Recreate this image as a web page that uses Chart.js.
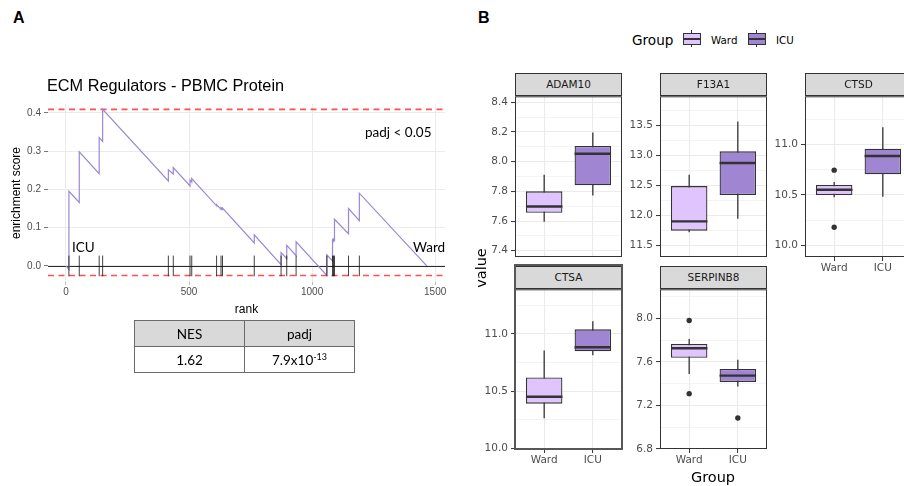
<!DOCTYPE html>
<html>
<head>
<meta charset="utf-8">
<title>ECM Regulators - PBMC Protein</title>
<script src="https://cdn.jsdelivr.net/npm/chart.js@4.4.1/dist/chart.umd.min.js"></script>
<style>
  html, body { margin: 0; padding: 0; }
  body { position: relative; width: 904px; height: 486px; overflow: hidden; background: #fff; font-family: "DejaVu Sans", sans-serif; }
  canvas, .t, .strip, .key { position: absolute; }
  .t { white-space: nowrap; color: #000; }
  .tag { font-family: "Liberation Sans"; font-weight: bold; font-size: 16px; line-height: 20px; }
  .note { font-family: Lato; font-size: 13.5px; line-height: 20px; }
  .strip { box-sizing: border-box; border: 1px solid #333; background: #d9d9d9; color: #1a1a1a; font-size: 10.5px; line-height: 21px; text-align: center; }
  .key { box-sizing: border-box; }
  #stats { position: absolute; left: 134px; top: 320px; border-collapse: collapse; font-family: Lato; font-size: 13.5px; }
  #stats th, #stats td { border: 1px solid #6b6b6b; width: 109px; height: 25px; padding: 0; text-align: center; font-weight: normal; color: #000; }
  #stats th { background: #d9d9d9; }
  #stats sup { font-size: 9px; vertical-align: 5px; line-height: 0; }
  .rot { transform: rotate(-90deg); text-align: center; }
</style>
</head>
<body>
<div id="plots"></div>

<!-- panel A texts -->
<div class="t tag" style="left:13px;top:8px">A</div>
<div class="t" style="left:47px;top:74px;line-height:22px;font-family:'Liberation Sans';font-size:16.3px">ECM Regulators - PBMC Protein</div>
<div class="t note" style="left:365px;top:122px">padj &lt; 0.05</div>
<div class="t note" style="left:72px;top:237px">ICU</div>
<div class="t note" style="left:413px;top:237px">Ward</div>
<table id="stats">
  <tr><th>NES</th><th>padj</th></tr>
  <tr><td>1.62</td><td>7.9x10<sup>-13</sup></td></tr>
</table>

<!-- panel B texts -->
<div class="t tag" style="left:478px;top:8px">B</div>
<div class="t" style="left:632px;top:30px;line-height:20px;font-size:13.6px">Group</div>
<div class="key" style="left:691px;top:30px;width:1.2px;height:17px;background:#333"></div>
<div class="key" style="left:683px;top:33px;width:18px;height:12px;background:#e0c4fe;border:1.3px solid #333"></div>
<div class="key" style="left:683px;top:38px;width:18px;height:1.6px;background:#333"></div>
<div class="t" style="left:711px;top:30px;line-height:20px;font-size:10.3px">Ward</div>
<div class="key" style="left:756px;top:30px;width:1.2px;height:17px;background:#333"></div>
<div class="key" style="left:748px;top:33px;width:18px;height:12px;background:#a085d2;border:1.3px solid #333"></div>
<div class="key" style="left:748px;top:38px;width:18px;height:1.6px;background:#333"></div>
<div class="t" style="left:776px;top:30px;line-height:20px;font-size:10.3px">ICU</div>
<div class="t rot" style="left:431px;top:258px;width:100px;line-height:20px;font-size:14.5px">value</div>
<div class="t" style="left:663px;top:467px;width:100px;line-height:20px;font-size:14.5px;text-align:center">Group</div>
<div id="strips"></div>

<script>
// ---------- panel A : running enrichment score ----------
const rankTicks = [0, 500, 1000, 1500];
const esTicks = [0, 0.1, 0.2, 0.3, 0.4];
const esTickLabels = ['0.0', '0.1', '0.2', '0.3', '0.4'];
const curveRank = [0, 12, 12, 54, 54, 135, 135, 149, 149, 416, 416, 436, 436, 504, 504, 511, 511,
  612, 612, 630, 630, 636, 636, 765, 765, 874, 874, 897, 897, 935, 935, 1060, 1060,
  1083, 1083, 1087, 1087, 1091, 1091, 1148, 1148, 1192, 1192, 1466];
const curveES = [0, -0.009, 0.195, 0.166, 0.298, 0.241, 0.335, 0.325, 0.409, 0.222, 0.251, 0.240, 0.257, 0.209, 0.224, 0.219, 0.228,
  0.157, 0.160, 0.148, 0.152, 0.148, 0.151, 0.060, 0.081, 0.003, 0.035, 0.019, 0.054, 0.027, 0.063, -0.025, 0.029,
  0.013, 0.068, 0.065, 0.070, 0.067, 0.122, 0.084, 0.150, 0.118, 0.190, 0.000];
const hitRanks = [12, 54, 135, 149, 416, 436, 504, 511, 612, 630, 636, 765, 874, 897, 935, 1060, 1083, 1087, 1091, 1148, 1192];
const esMaxLine = 0.409;
const esMinLine = -0.025;
const hitHalf = 0.027;

// ---------- panel B : boxplots ----------
const groups = ['Ward', 'ICU'];
// [lower whisker, Q1, median, Q3, upper whisker]
const adam10Ward = [7.596, 7.656, 7.698, 7.800, 7.912];
const adam10Icu = [7.772, 7.841, 8.053, 8.106, 8.197];
const f13a1Ward = [11.72, 11.745, 11.90, 12.49, 12.68];
const f13a1Icu = [11.945, 12.34, 12.876, 13.07, 13.57];
const ctsdWard = [10.477, 10.50, 10.553, 10.60, 10.63];
const ctsdIcu = [10.484, 10.707, 10.888, 10.96, 11.174];
const ctsaWard = [10.264, 10.391, 10.452, 10.62, 10.855];
const ctsaIcu = [10.814, 10.849, 10.884, 11.04, 11.11];
const serpinb8Ward = [7.489, 7.637, 7.725, 7.764, 7.81];
const serpinb8Icu = [7.374, 7.414, 7.474, 7.534, 7.619];
const ctsdWardOut = [10.747, 10.18];
const serpinb8WardOut = [7.979, 7.308];
const serpinb8IcuOut = [7.084];
const adam10Ticks = [7.4, 7.6, 7.8, 8.0, 8.2, 8.4];
const adam10Labels = ['7.4', '7.6', '7.8', '8.0', '8.2', '8.4'];
const f13a1Ticks = [11.5, 12.0, 12.5, 13.0, 13.5];
const f13a1Labels = ['11.5', '12.0', '12.5', '13.0', '13.5'];
const ctsdTicks = [10.0, 10.5, 11.0];
const ctsdLabels = ['10.0', '10.5', '11.0'];
const ctsaTicks = [10.0, 10.5, 11.0];
const ctsaLabels = ['10.0', '10.5', '11.0'];
const serpinb8Ticks = [6.8, 7.2, 7.6, 8.0];
const serpinb8Labels = ['6.8', '7.2', '7.6', '8.0'];

const wardFill = '#e0c4fe';
const icuFill = '#a085d2';

Chart.defaults.font.family = 'DejaVu Sans';
Chart.defaults.animation = false;

function addCanvas(id, left, top, width, height) {
  const c = document.createElement('canvas');
  c.id = id;
  c.width = width;
  c.height = height;
  c.style.left = left + 'px';
  c.style.top = top + 'px';
  c.style.width = width + 'px';
  c.style.height = height + 'px';
  document.getElementById('plots').appendChild(c);
  return c;
}

/*-- hlines + hit ticks --*/
const gseaMarks = {
  id: 'gseaMarks',
  beforeDatasetsDraw(chart) {
    const { ctx, chartArea: a, scales: { y } } = chart;
    ctx.save();
    ctx.setLineDash([6, 4.5]);
    ctx.lineWidth = 1.6;
    ctx.strokeStyle = 'rgba(255, 50, 50, 0.85)';
    [esMaxLine, esMinLine].forEach(v => {
      const py = y.getPixelForValue(v);
      ctx.beginPath();
      ctx.moveTo(a.left, py);
      ctx.lineTo(a.right, py);
      ctx.stroke();
    });
    ctx.setLineDash([]);
    ctx.strokeStyle = '#2b2b2b';
    ctx.lineWidth = 1.1;
    const zy = Math.round(y.getPixelForValue(0)) + 0.5;
    ctx.beginPath();
    ctx.moveTo(a.left, zy);
    ctx.lineTo(a.right, zy);
    ctx.stroke();
    ctx.restore();
  },
  afterDatasetsDraw(chart) {
    const { ctx, scales: { x, y } } = chart;
    const y0 = y.getPixelForValue(hitHalf);
    const y1 = y.getPixelForValue(-hitHalf);
    ctx.save();
    ctx.strokeStyle = '#111';
    ctx.lineWidth = 0.8;
    hitRanks.forEach(r => {
      const px = x.getPixelForValue(r);
      ctx.beginPath();
      ctx.moveTo(px, y0);
      ctx.lineTo(px, y1);
      ctx.stroke();
    });
    ctx.restore();
  }
};

new Chart(addCanvas('gsea', 0, 95, 460, 230), {
  type: 'line',
  data: {
    datasets: [{
      data: curveRank.map((r, i) => ({ x: r, y: curveES[i] })),
      borderColor: '#9c87d5',
      borderWidth: 1.2,
      pointRadius: 0,
      tension: 0,
      fill: false
    }]
  },
  options: {
    responsive: false,
    layout: { padding: { top: 7, right: 15, left: 0, bottom: 0 } },
    plugins: { legend: { display: false }, tooltip: { enabled: false } },
    scales: {
      x: {
        type: 'linear', min: -73, max: 1540,
        afterBuildTicks: s => { s.ticks = rankTicks.map(v => ({ value: v })); },
        afterFit: s => { s.height = 43; },
        border: { display: false },
        grid: { color: '#ebebeb', lineWidth: 1, tickColor: '#aaa', tickLength: 3, tickWidth: 0.8 },
        ticks: { font: { family: 'Liberation Sans', size: 10 }, color: '#4d4d4d', padding: 1.5, maxRotation: 0, autoSkip: false, callback: v => String(v) },
        title: { display: true, text: 'rank', font: { family: 'Liberation Sans', size: 12 }, color: '#000', padding: { top: 0, bottom: 7.8 } }
      },
      y: {
        type: 'linear', min: -0.042, max: 0.423,
        afterBuildTicks: s => { s.ticks = esTicks.map(v => ({ value: v })); },
        afterFit: s => { s.width = 48; },
        border: { display: false },
        grid: { color: '#ebebeb', lineWidth: 1, tickColor: '#555', tickLength: 4, tickWidth: 0.8 },
        ticks: { font: { family: 'Liberation Sans', size: 10 }, color: '#4d4d4d', padding: 3, autoSkip: false, callback: (v, i) => esTickLabels[i] },
        title: { display: true, text: 'enrichment score', font: { family: 'Liberation Sans', size: 12 }, color: '#000', padding: { top: 9, bottom: 0 } }
      }
    }
  },
  plugins: [gseaMarks]
});

/*-- boxplot facets --*/
const boxMedians = {
  id: 'boxMedians',
  afterDatasetsDraw(chart) {
    const { ctx, scales: { y } } = chart;
    const idx = chart.data.datasets.findIndex(d => d.medians);
    const ds = chart.data.datasets[idx];
    ctx.save();
    ctx.strokeStyle = '#333';
    ctx.lineWidth = 2.4;
    chart.getDatasetMeta(idx).data.forEach((bar, i) => {
      const py = y.getPixelForValue(ds.medians[i]);
      ctx.beginPath();
      ctx.moveTo(bar.x - bar.width / 2, py);
      ctx.lineTo(bar.x + bar.width / 2, py);
      ctx.stroke();
    });
    ctx.restore();
  }
};

const panelBorder = {
  id: 'panelBorder',
  afterDatasetsDraw(chart) {
    const { ctx, chartArea: a } = chart;
    ctx.save();
    ctx.strokeStyle = '#333';
    ctx.lineWidth = 1;
    ctx.strokeRect(a.left + 0.5, a.top + 0.5, a.width - 1, a.height - 1);
    ctx.restore();
  }
};

const facets = [
  { name: 'ADAM10', ward: adam10Ward, icu: adam10Icu, wardOut: [], icuOut: [], ticks: adam10Ticks, labels: adam10Labels, min: 7.358, max: 8.44, left: 515, top: 95, h: 162, showX: false },
  { name: 'F13A1', ward: f13a1Ward, icu: f13a1Icu, wardOut: [], icuOut: [], ticks: f13a1Ticks, labels: f13a1Labels, min: 11.305, max: 13.99, left: 660, top: 95, h: 162, showX: false },
  { name: 'CTSD', ward: ctsdWard, icu: ctsdIcu, wardOut: ctsdWardOut, icuOut: [], ticks: ctsdTicks, labels: ctsdLabels, min: 9.885, max: 11.48, left: 805, top: 95, h: 162, showX: true },
  { name: 'CTSA', ward: ctsaWard, icu: ctsaIcu, wardOut: [], icuOut: [], ticks: ctsaTicks, labels: ctsaLabels, min: 9.995, max: 11.39, left: 515, top: 288, h: 161, showX: true },
  { name: 'SERPINB8', ward: serpinb8Ward, icu: serpinb8Icu, wardOut: serpinb8WardOut, icuOut: serpinb8IcuOut, ticks: serpinb8Ticks, labels: serpinb8Labels, min: 6.8, max: 8.266, left: 660, top: 288, h: 161, showX: true }
];
const panelW = 107;

function yTicks(f) {
  const t = [];
  const step = f.ticks[1] - f.ticks[0];
  const lo = f.ticks[0] - step / 2;
  const hi = f.ticks[f.ticks.length - 1] + step / 2;
  if (lo >= f.min) t.push({ value: lo, minor: true });
  f.ticks.forEach((v, i) => {
    t.push({ value: v, label: f.labels[i] });
    if (i < f.ticks.length - 1) t.push({ value: (v + f.ticks[i + 1]) / 2, minor: true });
  });
  if (hi <= f.max) t.push({ value: hi, minor: true });
  return t;
}

facets.forEach(f => {
  const canvas = addCanvas('facet' + f.name, f.left - 40, f.top - 8, 40 + panelW + 6, 8 + f.h + 22);
  new Chart(canvas, {
    type: 'bar',
    data: {
      datasets: [
        {
          // whiskers
          data: [{ x: 1, y: [f.ward[0], f.ward[4]] }, { x: 2, y: [f.icu[0], f.icu[4]] }],
          backgroundColor: '#333',
          maxBarThickness: 1.3,
          grouped: false,
          order: 3
        },
        {
          // boxes
          data: [{ x: 1, y: [f.ward[1], f.ward[3]] }, { x: 2, y: [f.icu[1], f.icu[3]] }],
          medians: [f.ward[2], f.icu[2]],
          backgroundColor: [wardFill, icuFill],
          borderColor: '#333',
          borderWidth: 1.3,
          borderSkipped: false,
          categoryPercentage: 1,
          barPercentage: 0.75,
          grouped: false,
          order: 2
        },
        {
          type: 'scatter',
          data: f.wardOut.map(v => ({ x: 1, y: v })).concat(f.icuOut.map(v => ({ x: 2, y: v }))),
          pointRadius: 2.7,
          pointBackgroundColor: '#333',
          pointBorderWidth: 0,
          showLine: false,
          order: 1
        }
      ]
    },
    options: {
      responsive: false,
      layout: { padding: { top: 8, right: 6, left: 0, bottom: 0 } },
      plugins: { legend: { display: false }, tooltip: { enabled: false } },
      scales: {
        x: {
          type: 'linear', min: 0.4, max: 2.6, offset: false,
          afterBuildTicks: s => { s.ticks = groups.map((g, i) => ({ value: i + 1 })); },
          afterFit: s => { s.height = 22; },
          border: { display: false },
          grid: { offset: false, color: '#ebebeb', lineWidth: 1.1, drawTicks: f.showX, tickColor: '#333', tickLength: 4, tickWidth: 1 },
          ticks: { display: f.showX, font: { size: 10.5 }, color: '#4d4d4d', padding: 1, maxRotation: 0, autoSkip: false, callback: v => groups[v - 1] }
        },
        y: {
          type: 'linear', min: f.min, max: f.max,
          afterBuildTicks: s => { s.ticks = yTicks(f); },
          afterFit: s => { s.width = 40; },
          border: { display: false },
          grid: {
            color: '#ebebeb',
            lineWidth: c => (c.tick && c.tick.minor ? 0.55 : 1.1),
            tickColor: c => (c.tick && c.tick.minor ? 'rgba(0,0,0,0)' : '#333'),
            tickLength: 4,
            tickWidth: 1
          },
          ticks: { font: { size: 10.5 }, color: '#4d4d4d', padding: 3, autoSkip: false, callback: (v, i, t) => (t[i].minor ? '' : t[i].label) }
        }
      }
    },
    plugins: [boxMedians, panelBorder]
  });

  const strip = document.createElement('div');
  strip.className = 'strip';
  strip.style.left = f.left + 'px';
  strip.style.top = (f.top - 22) + 'px';
  strip.style.width = panelW + 'px';
  strip.style.height = '23px';
  strip.textContent = f.name;
  document.getElementById('strips').appendChild(strip);
});

// highlighted CTSA facet
const hl = document.createElement('div');
hl.className = 'key';
hl.style.cssText = 'left:514px;top:264px;width:109px;height:186px;border:2.5px solid #575757';
document.getElementById('strips').appendChild(hl);
</script>
</body>
</html>
